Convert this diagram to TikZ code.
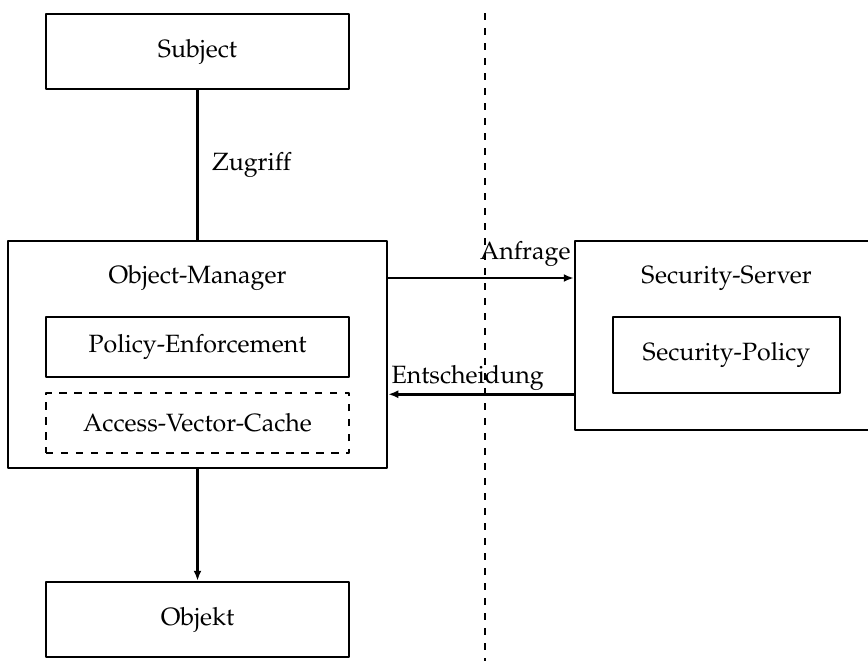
\documentclass[tikz,border=0pt]{standalone}
\usepackage[T1]{fontenc}
\usepackage{mathpazo}
\usetikzlibrary{arrows.meta}

\begin{document}
\begin{tikzpicture}[x=0.4pt, y=-0.4pt, line width=1pt, line join=round,
  font=\fontencoding{T1}\fontfamily{pplx}\selectfont,
  box/.style={draw, inner sep=0pt, minimum width=121.2pt, minimum height=30pt},
  inbox/.style={box, minimum height=24pt},
  title/.style={inner sep=0pt},
  flow/.style={-{Latex[length=4pt, width=3.2pt]}},
  lab/.style={inner xsep=0.8pt, inner ysep=1pt}]
\useasboundingbox (0,0) rectangle (868,661);
\clip (0,0) rectangle (868,661);
% boundary
\draw[dash pattern=on 2.8pt off 3.2pt] (485,13) -- (485,670);
% left side
\node[box] (subj) at (197.5,51.5) {Subject};
\node[box, minimum width=151.6pt, minimum height=90.8pt] (om) at (197.5,354.5) {};
\node[title] (omtitle) at (197.5,278) {Object-Manager};
\node[inbox] (pe) at (197.5,347) {Policy-Enforcement};
\node[inbox, dashed, dash pattern=on 3pt off 3pt] (avc) at (197.5,423) {Access-Vector-Cache};
\node[box] (obj) at (197.5,619.5) {Objekt};
% right side
\node[box, minimum height=75.6pt] (ss) at (726.5,335.5) {};
\node[title] (sstitle) at (726.5,278) {Security-Server};
\node[box, minimum width=90.8pt, minimum height=30.4pt] (sp) at (726.5,355) {Security-Policy};
% connectors
\draw (subj.south) -- node[right, xshift=2pt] (zug) {Zugriff} (om.north);
\draw[flow] (om.south) -- (obj.north);
\draw[flow] (omtitle -| om.east) -- (omtitle -| ss.west)
  node[lab, anchor=south east, inner ysep=4pt] (anf) {Anfrage};
\draw[flow] (sp.south -| ss.west) -- (sp.south -| om.east)
  node[lab, anchor=south west] (ent) {Entscheidung};
\end{tikzpicture}
\end{document}
